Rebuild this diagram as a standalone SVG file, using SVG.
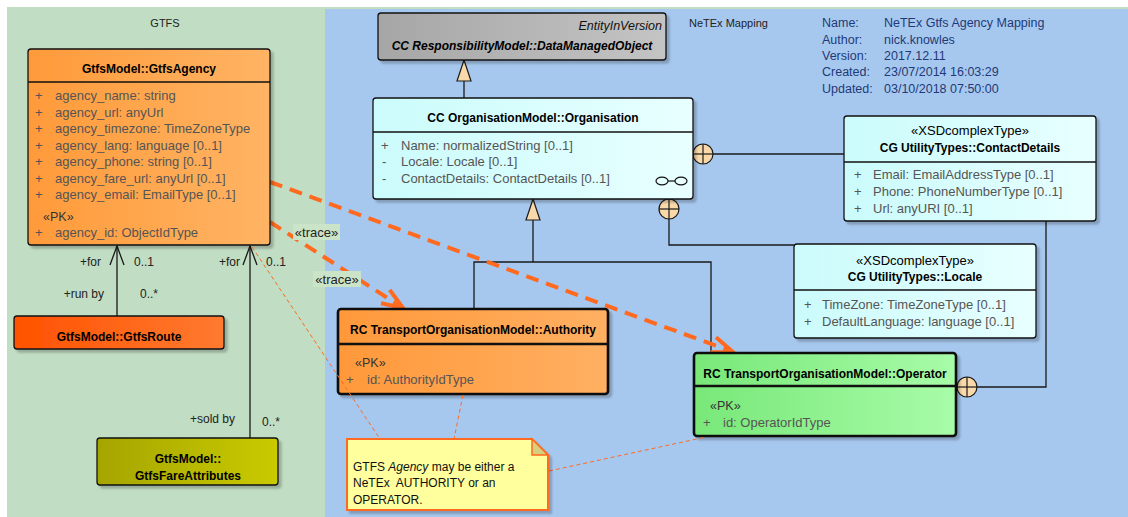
<svg xmlns="http://www.w3.org/2000/svg" width="1128" height="517" viewBox="0 0 1128 517">
  <style>
    text { font-family: "Liberation Sans", Arial, sans-serif; }
    .pkg { font-size: 11px; fill: #222; }
    .info { font-size: 12.5px; fill: #1e3a78; }
    .title { font-size: 12px; font-weight: bold; fill: #000; text-anchor: middle; }
    .stereo { font-size: 13px; fill: #000; text-anchor: middle; }
    .attr { font-size: 13px; fill: #555; }
    .pk { font-size: 12.5px; fill: #333; }
    .lbl { font-size: 12px; fill: #222; }
    .lblr { font-size: 12px; fill: #222; text-anchor: end; }
    .tracetxt { font-size: 13px; fill: #222; text-anchor: middle; }
    .note { font-size: 12px; fill: #111; }
    .box { stroke: #111; stroke-width: 1.3; }
    .thick { stroke: #111; stroke-width: 2.6; }
    .sep { stroke: #111; stroke-width: 1.3; }
    .conn { fill: none; stroke: #1a1a1a; stroke-width: 1.3; }
    .gen { fill: #f9d9aa; stroke: #1a1a1a; stroke-width: 1.2; }
    .comp circle { fill: #f9d9aa; stroke: #1a1a1a; stroke-width: 1.2; }
    .comp line { stroke: #1a1a1a; stroke-width: 1.2; }
    .trace { fill: none; stroke: #ff6a20; stroke-width: 4; stroke-dasharray: 13 8; }
    .notelink { fill: none; stroke: #ff6a20; stroke-width: 1; stroke-dasharray: 4 3; }
    .tracelbl { fill: #cbe3c7; }
  </style>
  <defs>
    <linearGradient id="gAgency" x1="0" x2="1" y1="0" y2="0">
      <stop offset="0" stop-color="#ff9a3a"/><stop offset="1" stop-color="#ffb464"/>
    </linearGradient>
    <linearGradient id="gRoute" x1="0" x2="1" y1="0" y2="0">
      <stop offset="0" stop-color="#ff5200"/><stop offset="1" stop-color="#ff7a30"/>
    </linearGradient>
    <linearGradient id="gFare" x1="0" x2="1" y1="0" y2="0">
      <stop offset="0" stop-color="#a5a500"/><stop offset="1" stop-color="#caca00"/>
    </linearGradient>
    <linearGradient id="gGray" x1="0" x2="1" y1="0" y2="0">
      <stop offset="0" stop-color="#a6a6a6"/><stop offset="1" stop-color="#c4c4c4"/>
    </linearGradient>
    <linearGradient id="gCyan" x1="0" x2="1" y1="0" y2="0">
      <stop offset="0" stop-color="#cbfbfb"/><stop offset="1" stop-color="#e8ffff"/>
    </linearGradient>
    <linearGradient id="gAuth" x1="0" x2="1" y1="0" y2="0">
      <stop offset="0" stop-color="#ff983a"/><stop offset="1" stop-color="#ffb062"/>
    </linearGradient>
    <linearGradient id="gOper" x1="0" x2="1" y1="0" y2="0">
      <stop offset="0" stop-color="#78e878"/><stop offset="1" stop-color="#a8fca8"/>
    </linearGradient>
    <filter id="shadow" x="-5%" y="-5%" width="115%" height="125%">
      <feDropShadow dx="3" dy="3" stdDeviation="1.2" flood-color="#000" flood-opacity="0.22"/>
    </filter>
    <marker id="openArrow" markerUnits="userSpaceOnUse" markerWidth="40" markerHeight="40" viewBox="-30 -20 40 40" refX="0" refY="0" orient="auto">
      <path d="M -21 -8 L 0 0 L -21 8" fill="none" stroke="#ff6a20" stroke-width="4"/>
    </marker>
  </defs>

  <!-- packages -->
  <rect x="0" y="0" width="1128" height="517" fill="#ffffff"/>
  <rect x="7" y="7" width="1121" height="510" fill="#c1ddc3"/>
  <rect x="325" y="9" width="803" height="508" fill="#a7c8ee"/>
  <text class="pkg" x="165" y="27" text-anchor="middle">GTFS</text>
  <text class="pkg" x="689" y="27">NeTEx Mapping</text>

  <g id="diagram-info" class="info">
    <text x="822" y="27">Name:</text><text x="884" y="27">NeTEx Gtfs Agency Mapping</text>
    <text x="822" y="44">Author:</text><text x="884" y="44">nick.knowles</text>
    <text x="822" y="60">Version:</text><text x="884" y="60">2017.12.11</text>
    <text x="822" y="76">Created:</text><text x="884" y="76">23/07/2014 16:03:29</text>
    <text x="822" y="93">Updated:</text><text x="884" y="93">03/10/2018 07:50:00</text>
  </g>

  <!-- connectors -->
  <g id="connectors">
    <!-- associations in GTFS -->
    <line class="conn" x1="117" y1="246" x2="117" y2="316"/>
    <polyline class="conn" points="110,265 117,246 124,265"/>
    <text class="lblr" x="101" y="266">+for</text>
    <text class="lbl" x="134" y="266">0..1</text>
    <text class="lblr" x="104" y="298">+run by</text>
    <text class="lbl" x="140" y="298">0..*</text>

    <line class="conn" x1="250" y1="246" x2="250" y2="438"/>
    <polyline class="conn" points="243,265 250,246 257,265"/>
    <text class="lblr" x="240" y="266">+for</text>
    <text class="lbl" x="266" y="266">0..1</text>
    <text class="lblr" x="235" y="423">+sold by</text>
    <text class="lbl" x="262" y="426">0..*</text>

    <!-- generalisation Organisation -> DataManagedObject -->
    <line class="conn" x1="464" y1="81" x2="464" y2="98"/>
    <polygon class="gen" points="464,60 457,81 471,81"/>

    <!-- generalisation Authority/Operator -> Organisation -->
    <polyline class="conn" points="474,309 474,262 711,262 711,353"/>
    <line class="conn" x1="533" y1="220" x2="533" y2="262"/>
    <polygon class="gen" points="533,199 526,220 540,220"/>

    <!-- compositions -->
    <line class="conn" x1="713" y1="154" x2="844" y2="154"/>
    <polyline class="conn" points="669,219 669,245 794,245"/>
    <polyline class="conn" points="1046,221 1046,387 977,387"/>
    <g class="comp">
      <circle cx="703" cy="154" r="10"/>
      <line x1="693" y1="154" x2="713" y2="154"/><line x1="703" y1="144" x2="703" y2="164"/>
    </g>
    <g class="comp">
      <circle cx="669" cy="209" r="10"/>
      <line x1="659" y1="209" x2="679" y2="209"/><line x1="669" y1="199" x2="669" y2="219"/>
    </g>
    <g class="comp">
      <circle cx="967" cy="387" r="10"/>
      <line x1="957" y1="387" x2="977" y2="387"/><line x1="967" y1="377" x2="967" y2="397"/>
    </g>

    <!-- trace dependencies -->
    <line class="trace" x1="270" y1="182" x2="733" y2="352" marker-end="url(#openArrow)"/>
    <line class="trace" x1="270" y1="222" x2="403" y2="308" marker-end="url(#openArrow)"/>
    <rect class="tracelbl" x="293" y="224" width="47" height="16"/>
    <text class="tracetxt" x="316.5" y="236.5">«trace»</text>
    <rect class="tracelbl" x="313" y="271" width="48" height="16"/>
    <text class="tracetxt" x="337" y="283.5">«trace»</text>
  </g>

  <!-- GTFS classes -->
  <g id="GtfsAgency">
    <rect x="28" y="49" width="242" height="196" rx="3" fill="url(#gAgency)" class="box" filter="url(#shadow)"/>
    <line class="sep" x1="28" y1="82" x2="270" y2="82"/>
    <text class="title" x="149" y="73">GtfsModel::GtfsAgency</text>
    <g class="attr">
      <text x="35" y="100">+</text><text x="55" y="100">agency_name: string</text>
      <text x="35" y="117">+</text><text x="55" y="117">agency_url: anyUrl</text>
      <text x="35" y="133">+</text><text x="55" y="133">agency_timezone: TimeZoneType</text>
      <text x="35" y="150">+</text><text x="55" y="150">agency_lang: language [0..1]</text>
      <text x="35" y="166">+</text><text x="55" y="166">agency_phone: string [0..1]</text>
      <text x="35" y="183">+</text><text x="55" y="183">agency_fare_url: anyUrl [0..1]</text>
      <text x="35" y="199">+</text><text x="55" y="199">agency_email: EmailType [0..1]</text>
    </g>
    <text class="pk" x="43" y="221">«PK»</text>
    <g class="attr">
      <text x="35" y="237">+</text><text x="55" y="237">agency_id: ObjectIdType</text>
    </g>
  </g>

  <g id="GtfsRoute">
    <rect x="14" y="316" width="210" height="33" rx="3" fill="url(#gRoute)" class="box" filter="url(#shadow)"/>
    <text class="title" x="119" y="341">GtfsModel::GtfsRoute</text>
  </g>

  <g id="GtfsFareAttributes">
    <rect x="97" y="438" width="181" height="47" rx="3" fill="url(#gFare)" class="box" filter="url(#shadow)"/>
    <text class="title" x="188" y="463">GtfsModel::</text>
    <text class="title" x="188" y="480">GtfsFareAttributes</text>
  </g>

  <!-- NeTEx classes -->
  <g id="DataManagedObject">
    <rect x="378" y="13" width="288" height="47" rx="3" fill="url(#gGray)" class="box" filter="url(#shadow)"/>
    <text x="662" y="30" font-size="12.5" font-style="italic" fill="#111" text-anchor="end">EntityInVersion</text>
    <text class="title" x="522" y="50" font-style="italic">CC ResponsibilityModel::DataManagedObject</text>
  </g>

  <g id="Organisation">
    <rect x="373" y="98" width="320" height="101" rx="3" fill="url(#gCyan)" class="box" filter="url(#shadow)"/>
    <line class="sep" x1="373" y1="132" x2="693" y2="132"/>
    <text class="title" x="533" y="122">CC OrganisationModel::Organisation</text>
    <g class="attr">
      <text x="381" y="150">+</text><text x="401" y="150">Name: normalizedString [0..1]</text>
      <text x="382" y="166">-</text><text x="401" y="166">Locale: Locale [0..1]</text>
      <text x="382" y="183">-</text><text x="401" y="183">ContactDetails: ContactDetails [0..1]</text>
    </g>
    <ellipse cx="662" cy="181" rx="6" ry="3.8" fill="none" stroke="#111" stroke-width="1.2"/>
    <ellipse cx="681" cy="181" rx="6" ry="3.8" fill="none" stroke="#111" stroke-width="1.2"/>
    <line x1="668" y1="181" x2="675" y2="181" stroke="#111" stroke-width="1.2"/>
  </g>

  <g id="ContactDetails">
    <rect x="844" y="116" width="252" height="105" rx="3" fill="url(#gCyan)" class="box" filter="url(#shadow)"/>
    <line class="sep" x1="844" y1="162" x2="1096" y2="162"/>
    <text class="stereo" x="970" y="135">«XSDcomplexType»</text>
    <text class="title" x="970" y="152">CG UtilityTypes::ContactDetails</text>
    <g class="attr">
      <text x="854" y="179">+</text><text x="873" y="179">Email: EmailAddressType [0..1]</text>
      <text x="854" y="196">+</text><text x="873" y="196">Phone: PhoneNumberType [0..1]</text>
      <text x="854" y="213">+</text><text x="873" y="213">Url: anyURI [0..1]</text>
    </g>
  </g>

  <g id="Locale">
    <rect x="794" y="244" width="242" height="94" rx="3" fill="url(#gCyan)" class="box" filter="url(#shadow)"/>
    <line class="sep" x1="794" y1="290" x2="1036" y2="290"/>
    <text class="stereo" x="915" y="265">«XSDcomplexType»</text>
    <text class="title" x="915" y="281">CG UtilityTypes::Locale</text>
    <g class="attr">
      <text x="804" y="309">+</text><text x="822" y="309">TimeZone: TimeZoneType [0..1]</text>
      <text x="804" y="326">+</text><text x="822" y="326">DefaultLanguage: language [0..1]</text>
    </g>
  </g>

  <g id="Authority">
    <rect x="338" y="309" width="270" height="85" rx="3" fill="url(#gAuth)" class="thick" filter="url(#shadow)"/>
    <line class="thick" x1="338" y1="344" x2="608" y2="344"/>
    <text class="title" x="473" y="334">RC TransportOrganisationModel::Authority</text>
    <text class="pk" x="355" y="367">«PK»</text>
    <g class="attr">
      <text x="346" y="384">+</text><text x="367" y="384">id: AuthorityIdType</text>
    </g>
  </g>

  <g id="Operator">
    <rect x="694" y="353" width="262" height="83" rx="3" fill="url(#gOper)" class="thick" filter="url(#shadow)"/>
    <line class="thick" x1="694" y1="386" x2="956" y2="386"/>
    <text class="title" x="825" y="378">RC TransportOrganisationModel::Operator</text>
    <text class="pk" x="710" y="410">«PK»</text>
    <g class="attr">
      <text x="703" y="427">+</text><text x="723" y="427">id: OperatorIdType</text>
    </g>
  </g>

  <!-- note and its links -->
  <g id="note-links">
    <line class="notelink" x1="252" y1="247" x2="380" y2="439"/>
    <line class="notelink" x1="463" y1="395" x2="454" y2="439"/>
    <line class="notelink" x1="549" y1="471" x2="706" y2="437"/>
  </g>
  <g id="AgencyNote">
    <path d="M347 439 H532 L548 455 V510 H347 Z" fill="#ffff9e" stroke="#ff6a20" stroke-width="2" filter="url(#shadow)"/>
    <path d="M532 439 V455 H548 Z" fill="#d6cf7e" stroke="#ff6a20" stroke-width="1.5"/>
    <text class="note" x="353" y="471">GTFS <tspan font-style="italic">Agency</tspan> may be either a</text>
    <text class="note" x="353" y="487" xml:space="preserve">NeTEx  AUTHORITY or an</text>
    <text class="note" x="353" y="504">OPERATOR.</text>
  </g>
</svg>
